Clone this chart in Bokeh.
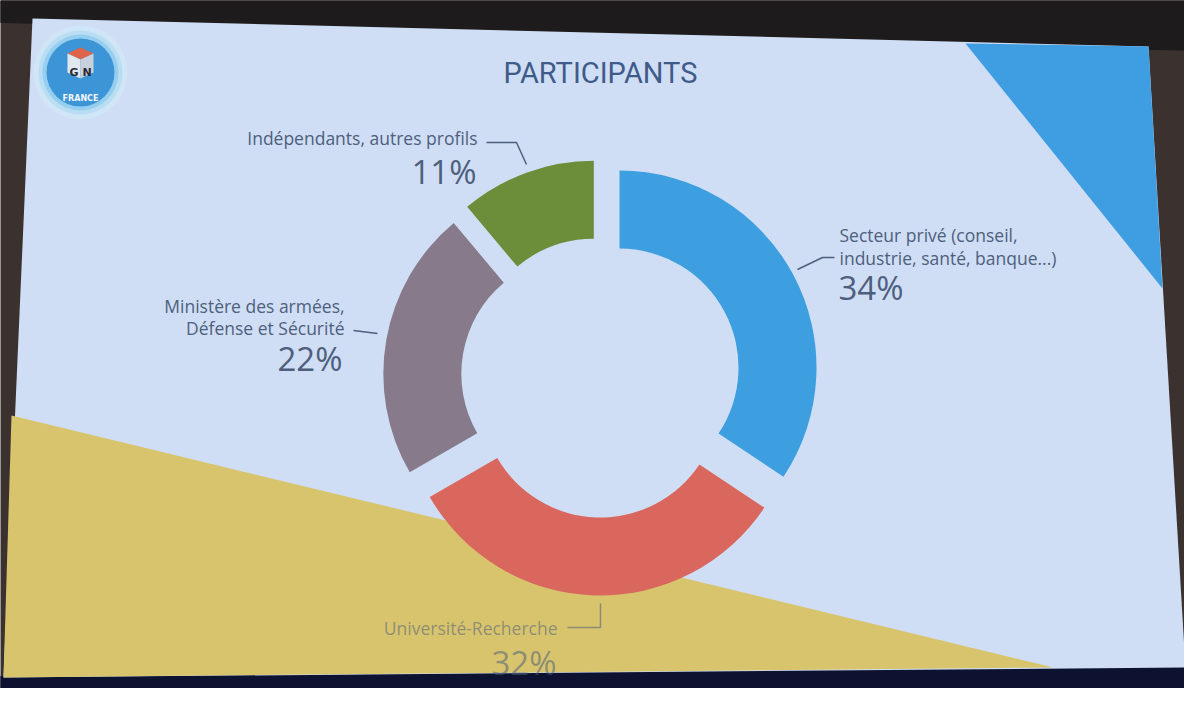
import numpy as np
from bokeh.plotting import figure
from bokeh.models import ColumnDataSource, Range1d
from bokeh.core.properties import value
from bokeh.embed import file_html
from bokeh.resources import INLINE

# ---------------- data ----------------
categories = ["Secteur privé (conseil, industrie, santé, banque...)",
              "Université-Recherche",
              "Ministère des armées, Défense et Sécurité",
              "Indépendants, autres profils"]
values = [34, 32, 22, 11]
colors = ["#3d9ee0", "#d9675e", "#877b8b", "#6c8e3a"]
pct_labels = ["34%", "32%", "22%", "11%"]
title_text = "PARTICIPANTS"

W, H = 1184, 688


def X(px):
    return px


def Y(py):
    return H - py


p = figure(width=W, height=H, output_backend="svg", toolbar_location=None,
           x_range=Range1d(0, W), y_range=Range1d(0, H),
           x_axis_type=None, y_axis_type=None, min_border=0)
p.grid.visible = False
p.outline_line_color = None
p.background_fill_color = "#3b3230"
p.border_fill_color = "#3b3230"

# ---------------- photographed slide background ----------------
p.patch([X(0), X(1200), X(1200), X(0)], [Y(0), Y(0), Y(50), Y(22)], color="#1e1b1d")
p.patch([X(0), X(1200), X(1200), X(0)], [Y(676), Y(664), Y(704), Y(704)], color="#0c1230")
p.patch([X(32), X(1148), X(1185), X(3)], [Y(18), Y(46), Y(667), Y(677)],
        color="#cfdef4", line_color=None)
p.patch([X(11), X(1053), X(3)], [Y(415), Y(667), Y(677)], color="#d8c46c", line_color=None)
p.patch([X(965), X(1148), X(1162)], [Y(43), Y(46), Y(288)], color="#3f9de2", line_color=None)

# ---------------- logo ----------------
p.circle(x=[X(80)] * 3, y=[Y(72)] * 3, radius=[47, 42, 38],
         color=["#cfe6f6", "#b3dbf2", "#8ccbee"], alpha=0.8, line_color=None)
p.circle(x=[X(80)], y=[Y(72)], radius=34, color="#3b95d6", line_color=None)
p.patch([X(80), X(93), X(80), X(67)], [Y(47), Y(53), Y(59), Y(53)], color="#e0644a", line_color=None)
p.patch([X(67), X(80), X(80), X(67)], [Y(53), Y(59), Y(78), Y(72)], color="#e2e8ef", line_color=None)
p.patch([X(80), X(93), X(93), X(80)], [Y(59), Y(53), Y(72), Y(78)], color="#c7d1dc", line_color=None)
p.text(x=[X(73.5), X(86.5)], y=[Y(72), Y(72)], text=["G", "N"], text_font=value("DejaVu Sans"),
       text_font_style="bold", text_font_size="11px", text_color="#2b2b33",
       text_align="center", text_baseline="alphabetic")
p.text(x=[X(80)], y=[Y(98)], text=["FRANCE"], text_font=value("DejaVu Sans"),
       text_font_style="bold", text_font_size="8px", text_color="#f2f6fb",
       text_align="center", text_baseline="alphabetic")

# ---------------- title ----------------
p.text(x=[X(600)], y=[Y(72)], text=[title_text], text_font=value("Roboto"),
       text_font_size="29px", text_color="#3f5b89", text_align="center",
       text_baseline="alphabetic")

# ---------------- exploded donut ----------------
vals = np.array(values, dtype=float)
frac = vals / vals.sum()
ends = np.cumsum(frac) * 2 * np.pi          # clockwise from 12 o'clock
starts = ends - frac * 2 * np.pi
mids = (starts + ends) / 2
cx, cy = X(600.5), Y(377)
explode = 21
src = ColumnDataSource(dict(
    x=cx + explode * np.sin(mids),
    y=cy + explode * np.cos(mids),
    sa=np.pi / 2 - ends,
    ea=np.pi / 2 - starts,
    color=colors,
    cat=categories,
))
p.annular_wedge(x="x", y="y", inner_radius=119, outer_radius=197,
                start_angle="sa", end_angle="ea", color="color",
                line_color=None, source=src)

# ---------------- labels ----------------
txt = "#4e5f7e"
f = value("Open Sans")
lab_size = "17.5px"
pct_size = "33px"

# Secteur privé (blue)
p.text(x=[X(839), X(839)], y=[Y(234), Y(257)],
       text=["Secteur privé (conseil,", "industrie, santé, banque...)"],
       text_font=f, text_font_size=lab_size, text_color=txt,
       text_align="left", text_baseline="alphabetic")
p.text(x=[X(838)], y=[Y(287)], text=[pct_labels[0]], text_font=f,
       text_font_size=pct_size, text_color=txt, text_align="left", text_baseline="alphabetic")
p.line([X(797), X(822), X(834)], [Y(269), Y(257), Y(257)], line_color=txt, line_width=1.5)

# Université-Recherche (red)
p.text(x=[X(557)], y=[Y(627)], text=["Université-Recherche"], text_font=f,
       text_font_size=lab_size, text_color=txt, text_alpha=0.55,
       text_align="right", text_baseline="alphabetic")
p.text(x=[X(556)], y=[Y(662)], text=[pct_labels[1]], text_font=f,
       text_font_size=pct_size, text_color=txt, text_alpha=0.55,
       text_align="right", text_baseline="alphabetic")
p.line([X(567), X(600), X(600)], [Y(627), Y(627), Y(603)], line_color=txt,
       line_alpha=0.55, line_width=1.5)

# Ministère (gray)
p.text(x=[X(344), X(344)], y=[Y(305), Y(327)],
       text=["Ministère des armées,", "Défense et Sécurité"],
       text_font=f, text_font_size=lab_size, text_color=txt,
       text_align="right", text_baseline="alphabetic")
p.text(x=[X(342)], y=[Y(358)], text=[pct_labels[2]], text_font=f,
       text_font_size=pct_size, text_color=txt, text_align="right", text_baseline="alphabetic")
p.line([X(353), X(377)], [Y(330), Y(333)], line_color=txt, line_width=1.5)

# Indépendants (green)
p.text(x=[X(477)], y=[Y(137)], text=["Indépendants, autres profils"], text_font=f,
       text_font_size=lab_size, text_color=txt, text_align="right", text_baseline="alphabetic")
p.text(x=[X(476)], y=[Y(171)], text=[pct_labels[3]], text_font=f,
       text_font_size=pct_size, text_color=txt, text_align="right", text_baseline="alphabetic")
p.line([X(486), X(516), X(526)], [Y(142), Y(142), Y(164)], line_color=txt, line_width=1.5)

open("out.html", "w").write(file_html(p, INLINE))
